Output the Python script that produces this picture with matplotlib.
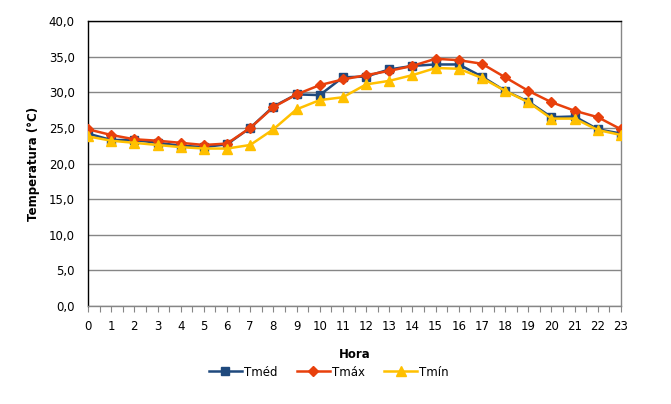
import matplotlib
matplotlib.use("Agg")
import matplotlib.pyplot as plt
from matplotlib.ticker import FuncFormatter, MultipleLocator

hours = list(range(24))
tmed = [24.2, 23.3, 23.3, 22.9, 22.5, 22.3, 22.7, 25.0, 28.0, 29.7, 29.6, 32.1, 32.2, 33.2, 33.7, 33.9, 33.9, 32.2, 30.2, 28.7, 26.5, 26.6, 24.8, 24.2]
tmax = [24.8, 24.0, 23.4, 23.2, 22.9, 22.6, 22.8, 25.0, 27.9, 29.7, 31.0, 31.8, 32.4, 33.0, 33.7, 34.7, 34.5, 34.0, 32.1, 30.2, 28.6, 27.4, 26.5, 24.8]
tmin = [23.8, 23.2, 22.9, 22.6, 22.3, 22.1, 22.1, 22.6, 24.8, 27.6, 28.9, 29.3, 31.1, 31.6, 32.4, 33.4, 33.3, 32.0, 30.2, 28.6, 26.3, 26.3, 24.7, 24.0]
series_names = ["Tméd", "Tmáx", "Tmín"]
y_label = "Temperatura (°C)"
x_label = "Hora"

W, H = 671, 404
fig = plt.figure(figsize=(W / 100, H / 100), dpi=100)
ax = fig.add_axes([88 / W, 1 - 306 / H, (621 - 88) / W, (306 - 21) / H])

ax.plot(hours, tmed, color="#1F497D", marker="s", markersize=6, linewidth=1.8, label=series_names[0], zorder=3)
ax.plot(hours, tmax, color="#E8400C", marker="D", markersize=5.5, linewidth=1.8, label=series_names[1], zorder=4)
ax.plot(hours, tmin, color="#FFC000", marker="^", markersize=7, linewidth=1.8, label=series_names[2], zorder=5)

ax.set_xlim(0, 23)
ax.set_ylim(0, 40)
ax.yaxis.set_major_locator(MultipleLocator(5))
ax.yaxis.set_major_formatter(FuncFormatter(lambda v, p: f"{v:.1f}".replace(".", ",")))
ax.set_xticks(hours)
ax.set_xticks([h + 0.5 for h in hours[:-1]], minor=True)
ax.tick_params(axis="x", which="both", direction="out", length=4, width=0.8, labelsize=8.5, pad=6,
               color="#868686", labelcolor="black")
ax.tick_params(axis="y", which="both", length=0, labelsize=8.5, pad=9.5, labelcolor="black")
ax.grid(axis="y", color="#868686", linewidth=1)
ax.set_axisbelow(True)
ax.spines["left"].set_color("black")
ax.spines["top"].set_color("black")
ax.spines["bottom"].set_color("#868686")
ax.spines["right"].set_color("#868686")
for s in ax.spines.values():
    s.set_linewidth(1)

ax.set_ylabel(y_label, fontsize=8.5, fontweight="bold", labelpad=6)
ax.set_xlabel(x_label, fontsize=8.5, fontweight="bold", labelpad=11)

fig.legend(loc="center", bbox_to_anchor=(329 / W, 1 - 372 / H), ncol=3, frameon=False,
           fontsize=8.5, handlelength=2.8, columnspacing=1.6, handletextpad=0.2)

fig.savefig("out.png", dpi=100)
